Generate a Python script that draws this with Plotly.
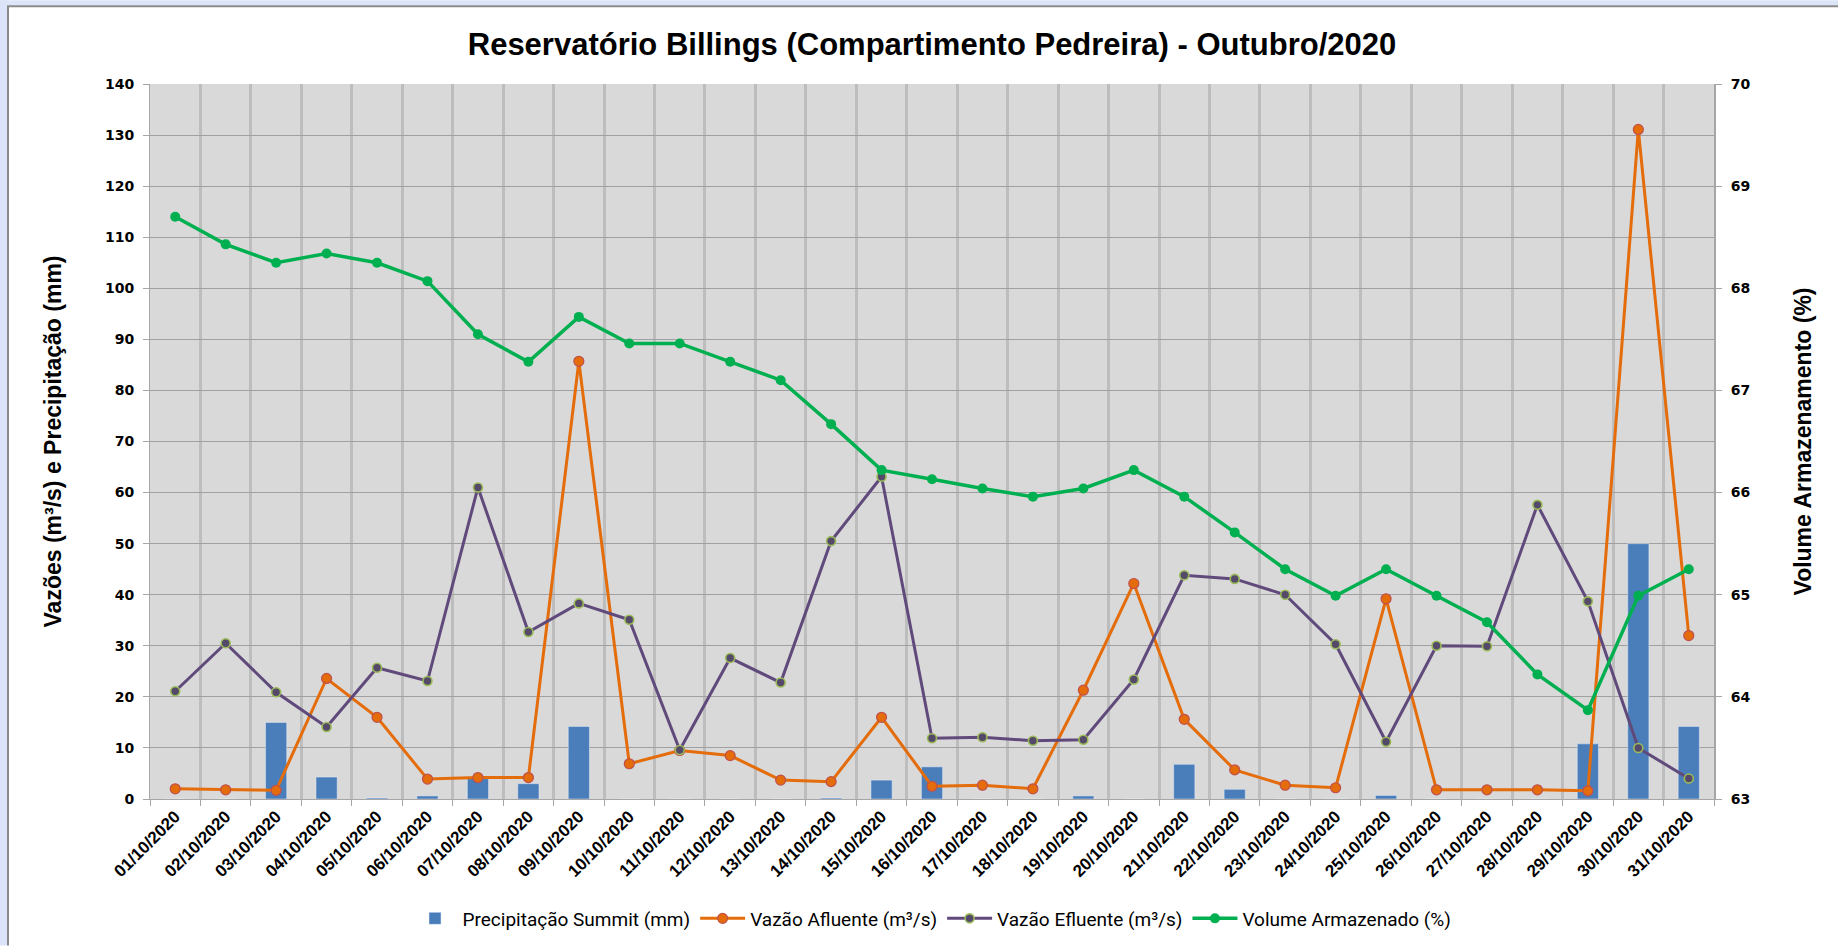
import plotly.graph_objects as go

dias = [f"{d:02d}/10/2020" for d in range(1, 32)]

precipitacao = [0, 0, 15.0, 4.3, 0.2, 0.6, 4.0, 3.0, 14.2, 0, 0, 0, 0, 0.2, 3.7, 6.3,
                0, 0, 0.6, 0, 6.8, 1.9, 0, 0, 0.7, 0, 0, 0, 10.8, 50.0, 14.2]
vazao_afluente = [2.0, 1.8, 1.7, 23.6, 16.0, 3.9, 4.2, 4.2, 85.7, 6.9, 9.5, 8.5, 3.7, 3.4,
                  16.0, 2.5, 2.7, 2.0, 21.3, 42.2, 15.6, 5.7, 2.7, 2.2, 39.2, 1.8, 1.8,
                  1.8, 1.6, 131.1, 32.0]
vazao_efluente = [21.1, 30.5, 20.9, 14.1, 25.7, 23.1, 61.0, 32.7, 38.3, 35.1, 9.6, 27.6,
                  22.8, 50.5, 63.1, 11.9, 12.1, 11.4, 11.6, 23.4, 43.8, 43.1, 40.0, 30.3,
                  11.2, 30.0, 29.9, 57.6, 38.7, 10.0, 4.0]
volume = [68.70, 68.43, 68.25, 68.34, 68.25, 68.07, 67.55, 67.28, 67.72, 67.46, 67.46,
          67.28, 67.10, 66.67, 66.22, 66.13, 66.04, 65.96, 66.04, 66.22, 65.96, 65.61,
          65.25, 64.99, 65.25, 64.99, 64.73, 64.22, 63.87, 64.99, 65.25]

nomes = ["Precipitação Summit (mm)", "Vazão Afluente (m³/s)",
         "Vazão Efluente (m³/s)", "Volume Armazenado (%)"]

W, H = 1838, 949
L, R, T, B = 150, 124, 84, 147
PW, PH = W - L - R, H - T - B

def px(x):
    return (x - L) / PW

def py(y):
    return (H - B - y) / PH

SANS = "Liberation Sans, Arial, sans-serif"
COND = "Roboto, Liberation Sans, sans-serif"

fig = go.Figure()
fig.add_trace(go.Bar(x=dias, y=precipitacao, name=nomes[0], marker_color="#4a7ebb",
                     width=0.42, yaxis="y"))
fig.add_trace(go.Scatter(x=dias, y=vazao_afluente, name=nomes[1], mode="lines+markers",
                         line=dict(color="#e46c0a", width=3),
                         marker=dict(size=10, color="#e46c0a",
                                     line=dict(color="#c0504d", width=1.2)),
                         yaxis="y"))
fig.add_trace(go.Scatter(x=dias, y=vazao_efluente, name=nomes[2], mode="lines+markers",
                         line=dict(color="#604a7b", width=3),
                         marker=dict(size=9, color="#55496a",
                                     line=dict(color="#9bbb59", width=1.6)),
                         yaxis="y"))
fig.add_trace(go.Scatter(x=dias, y=volume, name=nomes[3], mode="lines+markers",
                         line=dict(color="#00b050", width=3.5),
                         marker=dict(size=10, color="#00b050"),
                         yaxis="y2"))

shapes = [
    dict(type="rect", xref="paper", yref="paper", x0=px(0), x1=px(W), y0=py(0), y1=py(5),
         fillcolor="#dbe4f9", line_width=0, layer="above"),
    dict(type="rect", xref="paper", yref="paper", x0=px(0), x1=px(7), y0=py(H), y1=py(0),
         fillcolor="#dbe4f9", line_width=0, layer="above"),
    dict(type="line", xref="paper", yref="paper", x0=px(7), x1=px(W), y0=py(6), y1=py(6),
         line=dict(color="#8a8a8a", width=2), layer="above"),
    dict(type="line", xref="paper", yref="paper", x0=px(8), x1=px(8), y0=py(H), y1=py(6),
         line=dict(color="#8a8a8a", width=2), layer="above"),
]

fig.update_layout(
    width=W, height=H,
    margin=dict(l=L, r=R, t=T, b=B, pad=0),
    paper_bgcolor="white",
    plot_bgcolor="#d9d9d9",
    title=dict(text="<b>Reservatório Billings (Compartimento Pedreira) - Outubro/2020</b>",
               x=0.5, xref="paper", xanchor="center", y=1 - 44 / H, yanchor="middle",
               font=dict(family=SANS, size=31, color="black")),
    xaxis=dict(type="category", tickangle=-45, tickson="boundaries",
               showgrid=True, gridcolor="#bdbdbd", gridwidth=3,
               ticks="outside", ticklen=6, tickcolor="#a6a6a6", tickwidth=1,
               showline=True, linecolor="#a6a6a6", linewidth=1,
               tickfont=dict(family=SANS, size=17, color="black", weight="bold"),
               range=[-0.5, 30.5]),
    yaxis=dict(range=[0, 140], dtick=10, showgrid=True, gridcolor="#a0a0a0", gridwidth=1.2,
               ticks="outside", ticklen=6, tickcolor="#a6a6a6", ticklabelstandoff=6,
               showline=True, linecolor="#a6a6a6", linewidth=1, zeroline=False,
               tickfont=dict(family="DejaVu Sans", size=14, color="black", weight="bold"),
               title=dict(text="<b>Vazões (m³/s) e Precipitação (mm)</b>", standoff=36,
                          font=dict(family=SANS, size=23, color="black"))),
    yaxis2=dict(range=[63, 70], dtick=1, overlaying="y", side="right", showgrid=False,
                ticks="outside", ticklen=6, tickcolor="#a6a6a6", ticklabelstandoff=6,
                showline=True, linecolor="#a6a6a6", linewidth=2, zeroline=False,
                tickfont=dict(family="DejaVu Sans", size=14, color="black", weight="bold"),
                title=dict(text="<b>Volume Armazenamento (%)</b>", standoff=45,
                           font=dict(family=SANS, size=23, color="black"))),
    legend=dict(orientation="h", x=0.5, xanchor="center", y=py(922), yanchor="middle",
                font=dict(family=COND, size=19, color="black"),
                bgcolor="rgba(0,0,0,0)", itemwidth=45, tracegroupgap=0,
                entrywidth=0),
    shapes=shapes,
    showlegend=True,
)

fig.write_html("out.html", config={"displayModeBar": False},
               post_script="document.body.style.margin='0';document.body.style.overflow='hidden';")
